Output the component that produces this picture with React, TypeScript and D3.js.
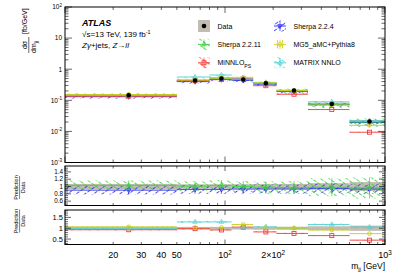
import React from 'react';
import * as d3 from 'd3';

// m_jj bins [GeV] (first bin starts at 0, axis starts at 10)
const binEdges = [0, 50, 80, 110, 150, 210, 330, 600, 1000];
const binCenters = [25, 65, 95, 130, 180, 270, 465, 800];

// measured cross section [fb/GeV] and relative uncertainty
const dataValues = [0.145, 0.434, 0.504, 0.468, 0.355, 0.206, 0.0764, 0.0209];
const dataRelErr = [0.07, 0.06, 0.06, 0.06, 0.07, 0.07, 0.09, 0.12];

// prediction / data
const sherpa224Ratio = [0.9, 0.92, 0.92, 0.93, 0.93, 0.93, 0.95, 0.93];
const sherpa224Err = [0.13, 0.13, 0.13, 0.13, 0.13, 0.13, 0.14, 0.14];
const sherpa2211Ratio = [1.03, 1.01, 1.03, 1.0, 0.98, 0.97, 0.98, 0.96];
const sherpa2211Err = [0.13, 0.13, 0.14, 0.15, 0.16, 0.18, 0.25, 0.3];
const mg5Ratio = [1.06, 1.03, 1.03, 1.17, 1.03, 1.0, 0.92, 0.75];
const mg5Err = [0.03, 0.03, 0.03, 0.03, 0.03, 0.03, 0.03, 0.03];
const minnloRatio = [0.93, 0.98, 0.92, 1.05, 0.83, 0.76, 0.66, 0.45];
const minnloErr = [0.03, 0.03, 0.03, 0.03, 0.03, 0.03, 0.03, 0.03];
const matrixRatio = [0.98, 1.29, 1.29, 1.03, 1.06, 1.0, 1.17, 1.05];
const matrixErr = [0.04, 0.04, 0.04, 0.04, 0.04, 0.04, 0.04, 0.04];

const mainYLabels = [
  { v: 100, base: '10', exp: '2' },
  { v: 10, base: '10', exp: '' },
  { v: 1, base: '1', exp: '' },
  { v: 0.1, base: '10', exp: '-1' },
  { v: 0.01, base: '10', exp: '-2' },
  { v: 0.001, base: '10', exp: '-3' },
];
const r1Labels = [0.6, 0.8, 1, 1.2, 1.4];
const r2Labels = [0.5, 1, 1.5];
const xLabels = [
  { v: 20, base: '20', exp: '' },
  { v: 30, base: '30', exp: '' },
  { v: 40, base: '40', exp: '' },
  { v: 50, base: '50', exp: '' },
  { v: 100, base: '10', exp: '2' },
  { v: 200, base: '2\u00d710', exp: '2' },
  { v: 1000, base: '10', exp: '3' },
];

const X0 = 65, X1 = 385;
const x = d3.scaleLog().domain([10, 1000]).range([X0, X1]);
const yMain = d3.scaleLog().domain([1e-3, 1e2]).range([162.5, 7]);
const yR1 = d3.scaleLinear().domain([0.48, 1.56]).range([205.5, 166]);
const yR2 = d3.scaleLinear().domain([0.25, 1.84]).range([244.5, 210]);

const panels = [
  { id: 'main', top: 7, bottom: 162.5 },
  { id: 'r1', top: 166, bottom: 205.5 },
  { id: 'r2', top: 210, bottom: 244.5 },
];

const bins = binCenters.map((c, i) => ({ lo: Math.max(binEdges[i], 10), hi: binEdges[i + 1], c }));

const models = [
  { key: 's224', label: 'Sherpa 2.2.4', ratio: sherpa224Ratio, err: sherpa224Err, color: '#2a2af5', angle: 55, marker: 'triDown', panel: 1 },
  { key: 's2211', label: 'Sherpa 2.2.11', ratio: sherpa2211Ratio, err: sherpa2211Err, color: '#3fd23f', angle: -55, marker: 'triUp', panel: 1 },
  { key: 'minnlo', label: 'MiNNLO', ratio: minnloRatio, err: minnloErr, color: '#f53a3a', angle: -55, marker: 'square', panel: 2 },
  { key: 'matrix', label: 'MATRIX NNLO', ratio: matrixRatio, err: matrixErr, color: '#4fd0d0', angle: -55, marker: 'triUp', panel: 2 },
  { key: 'mg5', label: 'MG5_aMC+Pythia8', ratio: mg5Ratio, err: mg5Err, color: '#cccc1a', angle: 0, marker: 'circle', panel: 2 },
];
const bandGray = '#c2bcb2';
const FONT = 'Liberation Sans, Arial, Helvetica, sans-serif';

function Marker({ type, cx, cy, color }) {
  if (type === 'dot') return <circle cx={cx} cy={cy} r={2.3} fill="#000" />;
  if (type === 'circle') return <circle cx={cx} cy={cy} r={1.9} fill="none" stroke={color} strokeWidth={0.9} />;
  if (type === 'square') return <rect x={cx - 2} y={cy - 2} width={4} height={4} fill="none" stroke={color} strokeWidth={0.9} />;
  const p = d3.symbol(d3.symbolTriangle, 9)();
  const rot = type === 'triDown' ? 180 : 0;
  return <path d={p} transform={`translate(${cx},${cy}) rotate(${rot})`} fill="none" stroke={color} strokeWidth={0.8} />;
}

function ModelBins({ m, yv, clip }) {
  return (
    <g clipPath={`url(#${clip})`}>
      {bins.map((b, i) => {
        const v = yv(i, m.ratio[i]);
        const hi = yv(i, m.ratio[i] * (1 + m.err[i]));
        const lo = yv(i, m.ratio[i] * (1 - m.err[i]));
        return (
          <g key={i}>
            <rect x={x(b.lo)} width={x(b.hi) - x(b.lo)} y={hi} height={lo - hi} fill={`url(#hatch-${m.key})`} />
            <line x1={x(b.lo)} x2={x(b.hi)} y1={v} y2={v} stroke={m.color} strokeWidth={0.9} />
            <line x1={x(b.c)} x2={x(b.c)} y1={hi} y2={lo} stroke={m.color} strokeWidth={0.7} />
            <Marker type={m.marker} cx={x(b.c)} cy={v} color={m.color} />
          </g>
        );
      })}
    </g>
  );
}

function Sup({ base, exp, size }) {
  return (
    <>
      {base}
      {exp && <tspan dy={-size * 0.4} fontSize={size * 0.7}>{exp}</tspan>}
    </>
  );
}

function Frame({ top, bottom, xLong, yTicks }) {
  const xMajor = [10, 100, 1000];
  const xMinor = [];
  [10, 100].forEach(d => { for (let k = 2; k <= 9; k++) xMinor.push(k * d); });
  return (
    <g stroke="#000" strokeWidth={0.6}>
      {xMajor.concat(xMinor).map((v, i) => {
        const len = xMajor.includes(v) ? xLong : xLong / 2;
        return (
          <g key={i}>
            <line x1={x(v)} x2={x(v)} y1={bottom} y2={bottom - len} />
            <line x1={x(v)} x2={x(v)} y1={top} y2={top + len} />
          </g>
        );
      })}
      {yTicks.map((t, i) => (
        <g key={'y' + i}>
          <line x1={X0} x2={X0 + t.len} y1={t.y} y2={t.y} />
          <line x1={X1} x2={X1 - t.len} y1={t.y} y2={t.y} />
        </g>
      ))}
      <rect x={X0} y={top} width={X1 - X0} height={bottom - top} fill="none" strokeWidth={1} />
    </g>
  );
}

export default function App() {
  const mainYTicks = [];
  for (let e = -3; e <= 2; e++) {
    const d = Math.pow(10, e);
    mainYTicks.push({ y: yMain(d), len: 7 });
    if (e < 2) for (let k = 2; k <= 9; k++) mainYTicks.push({ y: yMain(k * d), len: 3.5 });
  }
  const r1Ticks = [];
  for (let v = 0.5; v <= 1.55; v += 0.05) {
    const major = r1Labels.some(l => Math.abs(l - v) < 1e-6);
    r1Ticks.push({ y: yR1(v), len: major ? 6 : 3 });
  }
  const r2Ticks = [];
  for (let v = 0.3; v <= 1.81; v += 0.1) {
    const major = r2Labels.some(l => Math.abs(l - v) < 1e-6);
    r2Ticks.push({ y: yR2(v), len: major ? 6 : 3 });
  }

  const mainY = (i, r) => yMain(dataValues[i] * r);

  const legendRows = [
    { col: 0, row: 0, key: 'data', label: 'Data' },
    { col: 1, row: 0, key: 's224' },
    { col: 0, row: 1, key: 's2211' },
    { col: 1, row: 1, key: 'mg5' },
    { col: 0, row: 2, key: 'minnlo' },
    { col: 1, row: 2, key: 'matrix' },
  ];

  return (
    <svg width={407} height={276} style={{ position: 'absolute', left: 0, top: 0, background: '#fff' }} fontFamily={FONT}>
      <defs>
        {models.map(m => (
          <pattern key={m.key} id={`hatch-${m.key}`} patternUnits="userSpaceOnUse" width={5} height={5} patternTransform={`rotate(${m.angle})`}>
            <line x1={2.5} y1={0} x2={2.5} y2={5} stroke={m.color} strokeWidth={0.85} strokeDasharray="3.5 1.5" />
          </pattern>
        ))}
        {panels.map(p => (
          <clipPath key={p.id} id={`clip-${p.id}`}>
            <rect x={X0} y={p.top} width={X1 - X0} height={p.bottom - p.top} />
          </clipPath>
        ))}
      </defs>

      {/* main panel */}
      <g clipPath="url(#clip-main)">
        {bins.map((b, i) => (
          <rect key={i} x={x(b.lo)} width={x(b.hi) - x(b.lo)} y={yMain(dataValues[i] * (1 + dataRelErr[i]))}
            height={yMain(dataValues[i] * (1 - dataRelErr[i])) - yMain(dataValues[i] * (1 + dataRelErr[i]))} fill={bandGray} />
        ))}
      </g>
      {models.map(m => <ModelBins key={m.key} m={m} yv={mainY} clip="clip-main" />)}
      <g clipPath="url(#clip-main)">
        {bins.map((b, i) => <Marker key={i} type="dot" cx={x(b.c)} cy={yMain(dataValues[i])} />)}
      </g>
      <Frame top={7} bottom={162.5} xLong={6} yTicks={mainYTicks} />
      <g fontSize={6.5} textAnchor="end">
        {mainYLabels.map((l, i) => (
          <text key={i} x={62} y={yMain(l.v) + 2.3}><Sup base={l.base} exp={l.exp} size={6.5} /></text>
        ))}
      </g>

      {/* ratio panel 1 */}
      <g clipPath="url(#clip-r1)">
        {bins.map((b, i) => (
          <rect key={i} x={x(b.lo)} width={x(b.hi) - x(b.lo)} y={yR1(1 + dataRelErr[i])}
            height={yR1(1 - dataRelErr[i]) - yR1(1 + dataRelErr[i])} fill={bandGray} />
        ))}
      </g>
      {models.filter(m => m.panel === 1).map(m => <ModelBins key={m.key} m={m} yv={(i, r) => yR1(r)} clip="clip-r1" />)}
      <Frame top={166} bottom={205.5} xLong={5} yTicks={r1Ticks} />
      <g fontSize={6.3} textAnchor="end">
        {r1Labels.map((v, i) => <text key={i} x={63} y={yR1(v) + 2.2}>{String(v)}</text>)}
      </g>

      {/* ratio panel 2 */}
      <g clipPath="url(#clip-r2)">
        {bins.map((b, i) => (
          <rect key={i} x={x(b.lo)} width={x(b.hi) - x(b.lo)} y={yR2(1 + dataRelErr[i])}
            height={yR2(1 - dataRelErr[i]) - yR2(1 + dataRelErr[i])} fill={bandGray} />
        ))}
      </g>
      {models.filter(m => m.panel === 2).map(m => <ModelBins key={m.key} m={m} yv={(i, r) => yR2(r)} clip="clip-r2" />)}
      <Frame top={210} bottom={244.5} xLong={5} yTicks={r2Ticks} />
      <g fontSize={7.5} textAnchor="end">
        {r2Labels.map((v, i) => <text key={i} x={63} y={yR2(v) + 2.6}>{String(v)}</text>)}
      </g>

      {/* x axis labels */}
      <g fontSize={9} textAnchor="middle">
        {xLabels.map((l, i) => (
          <text key={i} x={x(l.v)} y={258.3}><Sup base={l.base} exp={l.exp} size={9} /></text>
        ))}
      </g>
      <text x={385} y={269} fontSize={8.5} textAnchor="end">
        m<tspan dy={2} fontSize={6}>jj</tspan><tspan dy={-2}> [GeV]</tspan>
      </text>

      {/* y axis titles */}
      <g fontSize={7}>
        <text transform="translate(27,34) rotate(-90)">[fb/GeV]</text>
        <text transform="translate(27,45) rotate(-90)" textAnchor="middle">d{'\u03c3'}</text>
        <line x1={28.8} x2={28.8} y1={37} y2={53} stroke="#000" strokeWidth={0.6} />
        <text transform="translate(36,47) rotate(-90)" textAnchor="middle">dm<tspan dy={1.5} fontSize={5}>jj</tspan></text>
      </g>
      {[187.5, 221].map((cy, i) => (
        <g key={i} fontSize={5.5}>
          <text transform={`translate(18.3,${cy}) rotate(-90)`} textAnchor="middle">Prediction</text>
          <line x1={19.6} x2={19.6} y1={cy - 11.5} y2={cy + 11.5} stroke="#000" strokeWidth={0.5} />
          <text transform={`translate(25.3,${cy}) rotate(-90)`} textAnchor="middle">Data</text>
        </g>
      ))}

      {/* ATLAS label */}
      <text x={82} y={26} fontSize={9} fontWeight="bold" fontStyle="italic">ATLAS</text>
      <text x={82} y={36.5} fontSize={8}>
        {'\u221as=13 TeV, 139 fb'}<tspan dy={-3} fontSize={5.5}>-1</tspan>
      </text>
      <text x={82} y={47.5} fontSize={8}>
        <tspan fontStyle="italic">Z{'\u03b3'}</tspan>+jets,  <tspan fontStyle="italic">Z</tspan>{'\u2192'}<tspan fontStyle="italic">ll</tspan>
      </text>

      {/* legend */}
      {legendRows.map((r, i) => {
        const bx = r.col === 0 ? 198 : 274;
        const cy = 26 + r.row * 18.4;
        const m = models.find(mm => mm.key === r.key);
        return (
          <g key={i}>
            {m ? (
              <g>
                <rect x={bx} y={cy - 5.5} width={12} height={11} fill={`url(#hatch-${m.key})`} />
                <line x1={bx} x2={bx + 12} y1={cy} y2={cy} stroke={m.color} strokeWidth={0.9} />
                <line x1={bx + 6} x2={bx + 6} y1={cy - 5} y2={cy + 5} stroke={m.color} strokeWidth={0.7} />
                <Marker type={m.marker} cx={bx + 6} cy={cy} color={m.color} />
              </g>
            ) : (
              <g>
                <rect x={bx} y={cy - 6} width={12} height={12} fill={bandGray} />
                <Marker type="dot" cx={bx + 6} cy={cy} />
              </g>
            )}
            <text x={bx + 19.5} y={cy + 2.5} fontSize={7}>
              {m ? m.label : r.label}
              {r.key === 'minnlo' && <tspan dy={2.2} fontSize={5}>PS</tspan>}
            </text>
          </g>
        );
      })}
    </svg>
  );
}
